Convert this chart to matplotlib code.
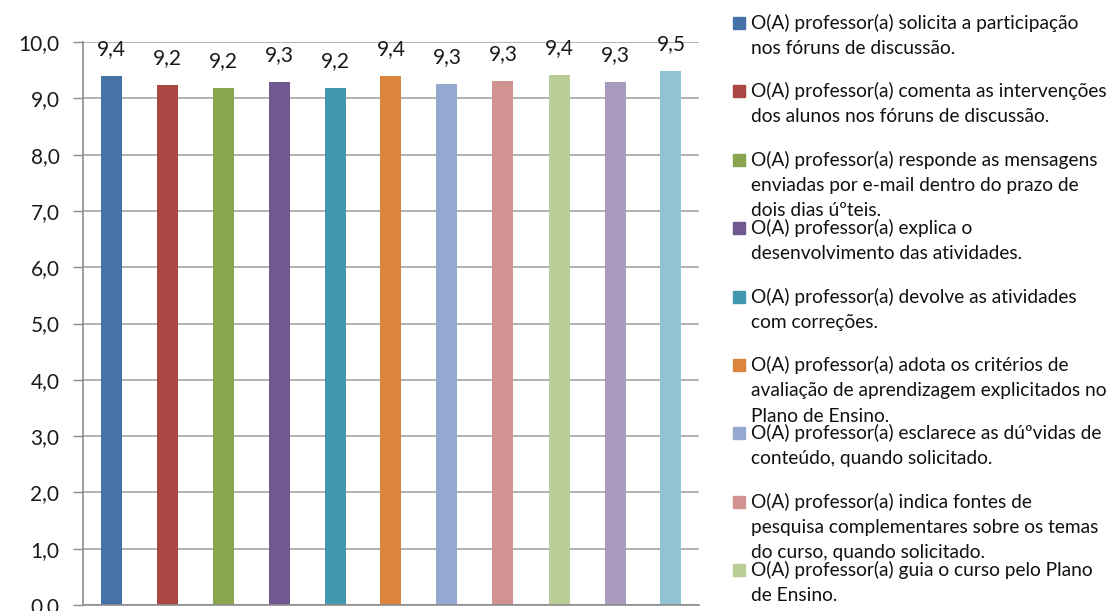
import matplotlib
matplotlib.use('Agg')
import matplotlib.pyplot as plt
from matplotlib.patches import Rectangle

plt.rcParams['font.family'] = ['Lato', 'DejaVu Sans']

# average score per item
valores = [9.40, 9.24, 9.19, 9.29, 9.19, 9.40, 9.26, 9.31, 9.42, 9.29, 9.49]
cores = ['#4572A7', '#AA4643', '#89A54E', '#71588F', '#4198AF', '#DB843D',
         '#93A9CF', '#D19392', '#B9CD96', '#A99BBD', '#91C3D5']
# legend entries visible in the (cropped) picture
legendas = [
    'O(A) professor(a) solicita a participação\nnos fóruns de discussão.',
    'O(A) professor(a) comenta as intervenções\ndos alunos nos fóruns de discussão.',
    'O(A) professor(a) responde as mensagens\nenviadas por e-mail dentro do prazo de\ndois dias úºteis.',
    'O(A) professor(a) explica o\ndesenvolvimento das atividades.',
    'O(A) professor(a) devolve as atividades\ncom correções.',
    'O(A) professor(a) adota os critérios de\navaliação de aprendizagem explicitados no\nPlano de Ensino.',
    'O(A) professor(a) esclarece as dúºvidas de\nconteúdo, quando solicitado.',
    'O(A) professor(a) indica fontes de\npesquisa complementares sobre os temas\ndo curso, quando solicitado.',
    'O(A) professor(a) guia o curso pelo Plano\nde Ensino.',
]

W, H = 1118, 611
fig = plt.figure(figsize=(W / 100, H / 100), dpi=100)
ax = fig.add_axes([83 / W, 1 - 605 / H, 616 / W, 563 / H])

x = range(len(valores))
ax.bar(x, valores, width=0.375, color=cores, zorder=2)
for xi, v in zip(x, valores):
    ax.annotate(f'{v:.1f}'.replace('.', ','), (xi, v), xytext=(0, 15),
                textcoords='offset points', ha='center', va='baseline',
                fontsize=15, color='#1a1a1a', zorder=3)

ax.set_xlim(-0.5, len(valores) - 0.5)
ax.set_ylim(0, 10)
ax.set_yticks(range(0, 11))
ax.set_yticklabels([f'{t:.1f}'.replace('.', ',') for t in range(0, 11)], fontsize=15, color='#1a1a1a')
ax.set_xticks([])
ax.yaxis.grid(True, color='#A6A6A6', lw=1.2, zorder=1)
ax.tick_params(axis='y', length=7, width=1, color='#8C8C8C', pad=10)
for s in ['top', 'right']:
    ax.spines[s].set_visible(False)
for s in ['left', 'bottom']:
    ax.spines[s].set_color('#8C8C8C')
    ax.spines[s].set_linewidth(1.2)
ax.set_axisbelow(True)

# Excel-like legend with fixed entry spacing (3-line entries overlap the next)
passo = 68.4
for i, (lab, c) in enumerate(zip(legendas, cores)):
    y0 = 23 + i * passo
    fig.patches.append(Rectangle((733 / W, 1 - (y0 + 6) / H), 12 / W, 12 / H,
                                 transform=fig.transFigure, color=c))
    for j, linha in enumerate(lab.split('\n')):
        fig.text(751 / W, 1 - (y0 + j * 25.5) / H, linha, fontsize=13.8,
                 va='center', ha='left', color='#111111')

fig.savefig('out.png', dpi=100)
